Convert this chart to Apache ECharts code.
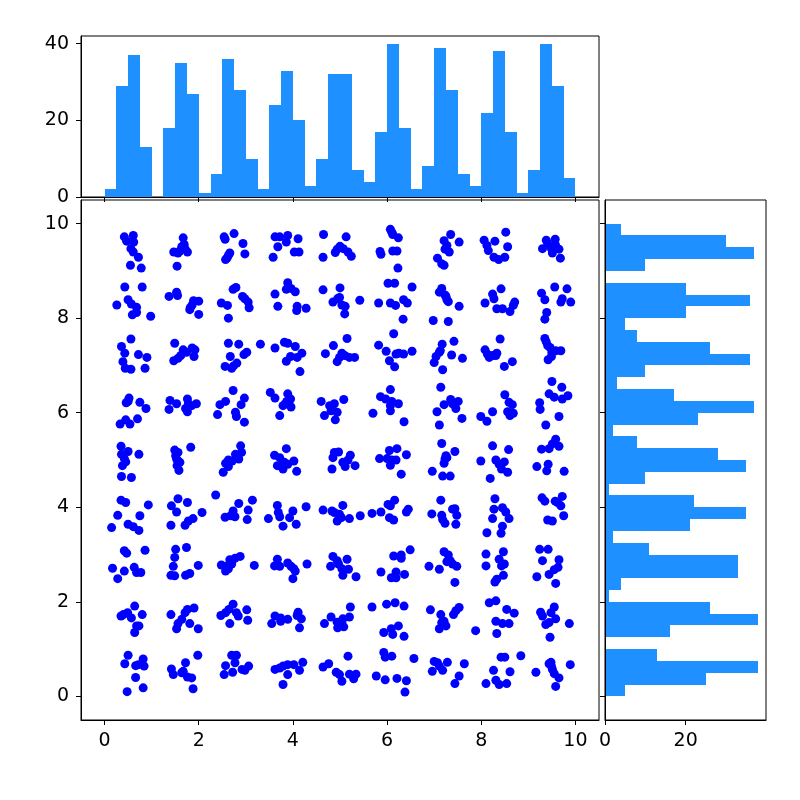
<!DOCTYPE html>
<html>
<head>
<meta charset="utf-8">
<script src="https://cdn.jsdelivr.net/npm/echarts@6/dist/echarts.min.js"></script>
<style>
  html, body { margin: 0; padding: 0; background: #fff; }
  #chart { width: 800px; height: 800px; }
</style>
</head>
<body>
<div id="chart"></div>
<script>
// scatter points, one array per band of clusters (top band first)
var row0 = [
  [0.42,9.72],[0.61,9.75],[0.47,9.63],[0.62,9.61],[0.56,9.47],[0.61,9.40],[0.72,9.29],[0.55,9.12],[0.78,9.06],
  [1.67,9.70],[1.69,9.56],[1.47,9.40],[1.60,9.42],[1.76,9.40],[1.54,9.10],[1.64,9.51],[1.56,9.38],[1.71,9.47],
  [2.54,9.72],[2.75,9.79],[2.94,9.58],[2.98,9.36],[2.66,9.38],[2.57,9.24],[2.56,9.67],[2.63,9.33],[2.60,9.27],
  [3.62,9.72],[3.72,9.72],[3.89,9.75],[3.86,9.61],[4.11,9.68],[3.68,9.51],[3.58,9.29],[4.03,9.40],[4.13,9.40],
  [4.65,9.77],[5.13,9.72],[5.00,9.52],[4.90,9.39],[5.07,9.47],[5.17,9.40],[5.24,9.31],[4.64,9.29],[4.94,9.46],
  [6.07,9.88],[6.12,9.77],[6.24,9.70],[5.85,9.41],[5.87,9.35],[6.12,9.42],[6.21,9.42],[6.23,9.06],[6.10,9.82],
  [7.35,9.77],[7.21,9.64],[7.53,9.61],[7.23,9.46],[7.32,9.40],[7.07,9.27],[7.16,9.15],[7.21,9.12],[7.27,9.54],
  [8.52,9.82],[8.06,9.65],[8.29,9.63],[8.15,9.43],[8.56,9.51],[8.27,9.29],[8.37,9.24],[8.50,9.29],[8.12,9.54],
  [9.38,9.65],[9.57,9.67],[9.30,9.47],[9.49,9.47],[9.65,9.46],[9.51,9.38],[9.68,9.27],[9.41,9.58],[9.58,9.54]
];
var row1 = [
  [0.43,8.66],[0.80,8.66],[0.26,8.28],[0.50,8.39],[0.57,8.30],[0.68,8.23],[0.59,8.07],[0.68,8.12],[0.98,8.04],
  [1.37,8.46],[1.53,8.55],[1.55,8.48],[1.82,8.22],[1.89,8.37],[2.00,8.36],[2.00,8.08],[1.86,8.28],[1.81,8.18],
  [2.48,8.32],[2.61,8.27],[2.73,8.61],[2.79,8.65],[2.93,8.46],[3.05,8.34],[3.07,8.22],[2.63,8.00],[2.98,8.41],
  [3.89,8.75],[3.86,8.61],[4.05,8.56],[3.62,8.51],[3.68,8.25],[4.09,8.25],[4.08,8.16],[4.28,8.21],[3.96,8.63],
  [4.64,8.60],[5.00,8.64],[4.99,8.44],[4.85,8.34],[5.04,8.28],[5.11,8.25],[5.10,8.09],[5.42,8.38],[4.95,8.41],
  [6.02,8.74],[6.16,8.74],[6.53,8.66],[5.82,8.32],[6.07,8.32],[6.18,8.27],[6.35,8.39],[6.43,8.32],[6.34,7.98],
  [7.16,8.63],[7.11,8.55],[7.25,8.46],[7.30,8.35],[7.53,8.25],[6.98,7.95],[7.30,7.93],[7.23,8.49],[7.27,8.39],
  [8.42,8.62],[8.24,8.51],[8.27,8.41],[8.08,8.32],[8.33,8.20],[8.45,8.20],[8.61,8.14],[8.71,8.34],[8.68,8.27],
  [9.28,8.53],[9.35,8.39],[9.56,8.66],[9.82,8.62],[9.69,8.34],[9.90,8.34],[9.39,8.12],[9.35,7.98],[9.72,8.41]
];
var row2 = [
  [0.56,7.56],[0.36,7.40],[0.43,7.26],[0.72,7.23],[0.90,7.17],[0.39,7.08],[0.44,6.94],[0.56,6.92],[0.86,6.94],
  [1.49,7.47],[1.67,7.33],[1.86,7.37],[1.92,7.33],[1.74,7.28],[1.90,7.19],[1.56,7.15],[1.47,7.10],[1.62,7.21],
  [2.63,7.47],[2.85,7.45],[3.02,7.28],[2.96,7.23],[2.67,7.19],[2.81,7.05],[2.56,6.98],[2.74,6.99],[2.70,6.94],
  [3.31,7.45],[3.62,7.37],[3.82,7.49],[3.89,7.47],[4.05,7.40],[4.19,7.26],[3.95,7.19],[3.86,7.09],[4.09,7.17],[4.15,6.87],
  [5.15,7.57],[4.86,7.42],[4.69,7.25],[5.04,7.26],[4.94,7.08],[5.20,7.17],[5.31,7.17],[5.10,7.21],[4.99,7.17],
  [6.14,7.67],[5.82,7.43],[5.98,7.30],[6.19,7.24],[6.35,7.24],[6.53,7.30],[6.05,7.10],[6.16,6.97],[6.25,7.26],
  [7.42,7.51],[7.17,7.45],[7.11,7.28],[7.37,7.22],[7.60,7.15],[7.04,7.19],[7.00,7.06],[7.18,6.91],[7.13,7.31],
  [8.40,7.56],[8.08,7.33],[8.13,7.24],[8.17,7.17],[8.33,7.26],[8.31,7.21],[8.66,7.08],[8.49,6.98],[8.24,7.21],
  [9.35,7.57],[9.38,7.50],[9.46,7.38],[9.50,7.28],[9.69,7.31],[9.42,7.12],[9.49,7.19],[9.41,7.42],[9.58,7.31]
];
var row3 = [
  [0.52,6.31],[0.46,6.21],[0.75,6.22],[0.88,6.09],[0.45,5.85],[0.33,5.76],[0.54,5.76],[0.70,5.87],[0.50,6.24],
  [1.39,6.26],[1.53,6.19],[1.37,6.07],[1.76,6.29],[1.78,6.19],[1.95,6.19],[1.72,6.09],[1.76,6.02],[1.85,6.15],
  [2.73,6.47],[2.97,6.31],[2.57,6.24],[2.45,6.17],[2.90,6.17],[2.40,5.96],[2.78,6.01],[2.80,5.92],[2.97,5.80],
  [3.52,6.43],[3.62,6.31],[3.89,6.40],[3.95,6.29],[3.79,6.15],[3.96,6.12],[3.84,6.19],[3.72,5.94],[3.87,6.24],
  [4.60,6.24],[5.08,6.28],[4.88,6.19],[4.81,6.12],[4.94,6.01],[4.67,5.94],[4.90,5.85],[4.81,6.04],[4.78,6.15],
  [6.07,6.49],[5.86,6.34],[5.97,6.29],[6.24,6.19],[6.07,6.15],[6.07,6.04],[5.70,5.99],[6.36,5.81],[6.10,6.24],
  [7.14,6.54],[7.21,6.17],[7.35,6.28],[7.51,6.24],[7.46,6.09],[7.06,6.02],[7.11,5.74],[7.59,5.88],[7.39,6.19],
  [8.50,6.38],[8.59,6.22],[8.66,6.17],[8.56,6.02],[8.68,5.99],[8.61,5.94],[8.24,6.02],[7.99,5.92],[8.12,5.82],
  [9.50,6.66],[9.71,6.54],[9.44,6.40],[9.55,6.33],[9.72,6.29],[9.84,6.36],[9.24,6.21],[9.25,6.07],[9.65,5.92],[9.37,5.74]
];
var row4 = [
  [0.35,5.29],[0.36,5.12],[0.50,5.18],[0.73,5.12],[0.45,4.96],[0.38,4.88],[0.36,4.65],[0.57,4.63],[0.42,5.03],
  [1.83,5.27],[1.49,5.21],[1.56,5.16],[1.53,5.02],[1.56,4.98],[1.60,4.95],[1.58,4.78],[1.54,4.88],[1.51,5.09],
  [2.89,5.30],[2.91,5.16],[2.85,5.02],[2.78,5.12],[2.63,5.00],[2.57,4.93],[2.63,4.86],[2.52,4.74],[2.71,4.98],
  [3.86,5.24],[3.61,5.10],[3.72,5.05],[4.02,4.98],[3.67,4.88],[3.79,4.81],[3.89,4.91],[4.08,4.76],[3.82,4.95],
  [4.88,5.16],[4.97,5.17],[4.85,5.05],[5.22,5.10],[5.06,4.95],[5.11,4.86],[4.83,4.81],[5.32,4.88],[5.17,5.00],
  [6.05,5.20],[6.21,5.24],[6.41,5.11],[5.84,5.03],[6.00,5.03],[6.10,5.00],[6.19,5.00],[6.07,4.89],[6.30,4.70],
  [7.16,5.35],[7.44,5.18],[7.25,5.09],[7.23,5.02],[7.21,4.93],[6.96,4.76],[7.18,4.66],[7.34,4.66],[7.27,5.05],
  [8.24,5.30],[8.58,5.22],[7.99,4.98],[8.31,5.00],[8.49,4.96],[8.43,4.81],[8.56,4.74],[8.19,4.61],[8.38,4.91],
  [9.58,5.44],[9.65,5.29],[9.28,5.23],[9.44,5.24],[9.42,4.91],[9.18,4.86],[9.39,4.77],[9.76,4.76],[9.51,5.34]
];
var row5 = [
  [0.35,4.15],[0.45,4.10],[0.93,4.05],[0.28,3.83],[0.75,3.82],[0.15,3.57],[0.50,3.64],[0.61,3.59],[0.73,3.51],
  [1.56,4.18],[1.76,4.10],[1.42,4.03],[1.53,3.90],[2.07,3.89],[1.88,3.76],[1.78,3.71],[1.71,3.62],[1.41,3.62],
  [2.36,4.26],[2.85,4.08],[3.14,4.15],[3.05,3.94],[2.73,3.92],[2.68,3.82],[2.56,3.79],[2.77,3.80],[3.03,3.74],
  [3.67,4.04],[3.69,3.89],[4.00,3.92],[4.28,4.01],[3.48,3.76],[3.72,3.80],[3.93,3.78],[3.79,3.60],[4.07,3.64],
  [4.64,3.94],[5.06,4.04],[4.88,3.89],[4.99,3.85],[5.03,3.78],[5.20,3.76],[4.94,3.71],[5.43,3.82],[4.83,3.92],
  [5.68,3.87],[5.87,3.90],[6.02,4.06],[6.16,4.15],[6.05,3.78],[6.14,3.73],[6.41,3.90],[6.45,3.96],[6.07,4.03],
  [7.14,4.15],[7.44,3.97],[6.95,3.86],[7.16,3.83],[7.48,3.83],[7.23,3.66],[7.46,3.64],[7.39,3.96],[7.18,3.74],
  [8.29,4.18],[8.27,3.96],[8.45,3.99],[8.52,3.90],[8.24,3.76],[8.59,3.76],[8.45,3.60],[8.12,3.46],[8.42,3.45],
  [9.29,4.20],[9.35,4.13],[9.57,4.13],[9.72,4.23],[9.69,4.03],[9.75,3.82],[9.41,3.73],[9.51,3.71],[9.62,4.10]
];
var row6 = [
  [0.42,3.08],[0.47,3.03],[0.86,3.09],[0.17,2.71],[0.42,2.65],[0.28,2.49],[0.63,2.73],[0.68,2.62],[0.77,2.62],
  [1.51,3.11],[1.74,3.15],[1.49,2.94],[1.46,2.75],[1.41,2.56],[1.49,2.55],[1.72,2.56],[1.81,2.60],[1.99,2.77],
  [2.48,2.78],[2.57,2.65],[2.63,2.70],[2.66,2.89],[2.77,2.92],[2.88,2.96],[2.70,2.80],[3.18,2.77],[2.59,2.75],
  [3.67,2.90],[3.61,2.76],[3.72,2.75],[3.89,2.82],[4.02,2.70],[4.05,2.65],[4.00,2.49],[4.30,2.80],[3.96,2.75],
  [4.85,2.96],[5.15,2.90],[4.80,2.75],[4.97,2.80],[5.04,2.70],[5.18,2.69],[5.06,2.56],[5.34,2.53],[4.94,2.87],
  [6.14,2.97],[6.30,2.99],[6.49,3.10],[6.30,2.92],[5.87,2.63],[6.19,2.63],[6.37,2.58],[6.09,2.51],[6.19,2.51],
  [6.89,2.75],[7.11,2.69],[7.21,3.06],[7.30,2.99],[7.27,2.85],[7.39,2.80],[7.48,2.75],[7.34,2.87],[7.44,2.41],
  [8.10,3.01],[8.10,2.76],[8.38,2.90],[8.47,3.06],[8.49,2.80],[8.43,2.76],[8.47,2.56],[8.29,2.42],[8.33,2.48],
  [9.24,3.11],[9.42,3.11],[9.30,2.87],[9.65,2.89],[9.63,2.73],[9.55,2.68],[9.44,2.58],[9.18,2.53],[9.58,2.39]
];
var row7 = [
  [0.64,1.91],[0.40,1.73],[0.49,1.77],[0.80,1.73],[0.57,1.66],[0.68,1.49],[0.73,1.49],[0.64,1.35],[0.35,1.70],
  [1.41,1.73],[1.76,1.84],[1.90,1.87],[1.71,1.77],[1.64,1.63],[1.56,1.54],[1.53,1.43],[1.81,1.54],[1.99,1.43],
  [2.73,1.95],[2.64,1.84],[2.47,1.71],[2.57,1.77],[2.80,1.77],[3.02,1.83],[3.04,1.61],[2.66,1.54],[2.84,1.70],
  [3.62,1.70],[3.74,1.66],[3.89,1.63],[3.55,1.54],[3.74,1.59],[4.11,1.78],[4.18,1.64],[4.14,1.45],[4.09,1.71],
  [5.22,1.89],[5.20,1.68],[5.06,1.64],[4.81,1.68],[4.67,1.54],[4.95,1.45],[5.08,1.47],[5.04,1.56],[4.94,1.57],
  [5.68,1.89],[5.99,1.95],[6.17,1.98],[6.36,1.91],[6.24,1.49],[6.09,1.43],[6.12,1.31],[5.93,1.35],[6.36,1.27],
  [6.92,1.83],[7.14,1.73],[7.53,1.88],[7.41,1.73],[7.21,1.59],[7.25,1.49],[7.11,1.43],[7.16,1.56],[7.46,1.81],
  [8.17,1.98],[8.31,2.02],[8.54,1.84],[8.70,1.76],[8.31,1.59],[8.45,1.54],[8.59,1.54],[8.33,1.33],[7.88,1.39],
  [9.26,1.78],[9.30,1.70],[9.55,1.89],[9.48,1.77],[9.58,1.64],[9.37,1.52],[9.44,1.56],[9.87,1.54],[9.46,1.25]
];
var row8 = [
  [0.50,0.87],[0.43,0.69],[0.66,0.65],[0.82,0.79],[0.84,0.64],[0.66,0.40],[0.82,0.18],[0.48,0.10],[0.72,0.67],
  [1.98,0.87],[1.72,0.71],[1.42,0.58],[1.46,0.46],[1.67,0.53],[1.76,0.41],[1.85,0.39],[1.88,0.16],[1.64,0.50],
  [2.70,0.87],[2.80,0.87],[2.77,0.71],[2.57,0.65],[2.54,0.46],[2.72,0.51],[2.92,0.57],[3.06,0.64],[2.98,0.55],
  [4.21,0.72],[4.02,0.67],[3.89,0.67],[3.79,0.64],[3.62,0.57],[4.14,0.55],[3.89,0.46],[3.79,0.25],[3.72,0.60],
  [5.17,0.85],[4.76,0.69],[4.64,0.62],[4.92,0.51],[5.04,0.32],[5.20,0.47],[5.34,0.47],[5.29,0.37],[4.99,0.46],
  [5.93,0.93],[5.96,0.83],[6.10,0.85],[5.77,0.43],[5.96,0.35],[6.21,0.38],[6.41,0.33],[6.38,0.09],[6.57,0.80],
  [7.00,0.74],[7.07,0.71],[7.28,0.72],[6.96,0.53],[7.18,0.55],[7.64,0.69],[7.53,0.43],[7.44,0.27],[7.11,0.64],
  [8.42,0.83],[8.50,0.83],[8.84,0.86],[8.26,0.55],[8.61,0.52],[8.31,0.34],[8.10,0.27],[8.38,0.25],[8.54,0.27],
  [9.48,0.72],[9.49,0.64],[9.51,0.57],[9.89,0.67],[9.16,0.51],[9.55,0.48],[9.65,0.39],[9.58,0.21],[9.44,0.69]
];

// histogram bins (shared edges) and counts read from the margins
var binEdges = [0, 0.25, 0.5, 0.75, 1, 1.25, 1.5, 1.75, 2, 2.25, 2.5, 2.75, 3, 3.25, 3.5, 3.75, 4, 4.25, 4.5, 4.75,
  5, 5.25, 5.5, 5.75, 6, 6.25, 6.5, 6.75, 7, 7.25, 7.5, 7.75, 8, 8.25, 8.5, 8.75, 9, 9.25, 9.5, 9.75, 10];
var xCounts = [2,29,37,13,0,18,35,27,1,6,36,28,10,2,24,33,20,3,10,32,32,7,4,17,40,18,2,8,39,28,6,3,22,38,17,1,7,40,29,5];
var yCounts = [5,25,38,13,0,16,38,26,1,4,33,33,11,2,21,35,22,1,10,35,28,8,2,23,37,17,3,10,36,26,8,5,20,36,20,0,10,37,30,4];

var mainTicks = [0, 2, 4, 6, 8, 10];
var topHistTicks = [0, 20, 40];
var rightHistTicks = [0, 20];

var points = [].concat(row0, row1, row2, row3, row4, row5, row6, row7, row8);
var topBins = xCounts.map(function (c, i) { return [binEdges[i], binEdges[i + 1], c]; });
var rightBins = yCounts.map(function (c, i) { return [binEdges[i], binEdges[i + 1], c]; });

var chart = echarts.init(document.getElementById('chart'));

function axisBase(extra) {
  var base = {
    type: 'value',
    axisLine: { show: true, onZero: false, lineStyle: { color: '#000', width: 1 } },
    axisTick: { show: true, length: 5, lineStyle: { color: '#000', width: 1 } },
    axisLabel: { show: true, margin: 12, color: '#000', fontSize: 19, fontFamily: 'DejaVu Sans' },
    splitLine: { show: false },
    z: 5
  };
  return Object.assign(base, extra);
}

function withTicks(ax, ticks, showLabels) {
  ax.axisTick.customValues = ticks;
  ax.axisLabel.customValues = ticks;
  ax.axisLabel.show = showLabels;
  return ax;
}

// snap bar edges to whole pixels so adjacent bins meet without seams
function pixelRect(a, b) {
  var x0 = Math.round(Math.min(a[0], b[0])), x1 = Math.round(Math.max(a[0], b[0]));
  var y0 = Math.round(Math.min(a[1], b[1])), y1 = Math.round(Math.max(a[1], b[1]));
  return { x: x0, y: y0, width: x1 - x0, height: y1 - y0 };
}

var option = {
  animation: false,
  backgroundColor: '#fff',
  textStyle: { fontFamily: 'DejaVu Sans' },
  grid: [
    { left: 81, top: 200, width: 518, height: 520, show: true, borderColor: '#000', borderWidth: 1, backgroundColor: '#fff' },
    { left: 81, top: 36, width: 518, height: 161, show: true, borderColor: '#000', borderWidth: 1, backgroundColor: '#fff' },
    { left: 605, top: 200, width: 161, height: 520, show: true, borderColor: '#000', borderWidth: 1, backgroundColor: '#fff' }
  ],
  xAxis: [
    withTicks(axisBase({ gridIndex: 0, min: -0.5, max: 10.5 }), mainTicks, true),
    withTicks(axisBase({ gridIndex: 1, min: -0.5, max: 10.5 }), mainTicks, false),
    withTicks(axisBase({ gridIndex: 2, min: 0, max: 39.9 }), rightHistTicks, true)
  ],
  yAxis: [
    withTicks(axisBase({ gridIndex: 0, min: -0.5, max: 10.5 }), mainTicks, true),
    withTicks(axisBase({ gridIndex: 1, min: 0, max: 42 }), topHistTicks, true),
    withTicks(axisBase({ gridIndex: 2, min: -0.5, max: 10.5 }), mainTicks, false)
  ],
  series: [
    {
      type: 'scatter',
      xAxisIndex: 0,
      yAxisIndex: 0,
      symbolSize: 9,
      itemStyle: { color: '#0000ff', opacity: 1 },
      silent: true,
      data: points
    },
    {
      type: 'custom',
      xAxisIndex: 1,
      yAxisIndex: 1,
      silent: true,
      encode: { x: [0, 1], y: 2 },
      renderItem: function (params, api) {
        if (!api.value(2)) return null;
        return {
          type: 'rect',
          shape: pixelRect(api.coord([api.value(0), 0]), api.coord([api.value(1), api.value(2)])),
          style: { fill: '#1e90ff' }
        };
      },
      data: topBins
    },
    {
      type: 'custom',
      xAxisIndex: 2,
      yAxisIndex: 2,
      silent: true,
      encode: { x: 2, y: [0, 1] },
      renderItem: function (params, api) {
        if (!api.value(2)) return null;
        return {
          type: 'rect',
          shape: pixelRect(api.coord([0, api.value(0)]), api.coord([api.value(2), api.value(1)])),
          style: { fill: '#1e90ff' }
        };
      },
      data: rightBins
    }
  ]
};

chart.setOption(option);

window.addEventListener('resize', function () {
  chart.resize();
});
</script>
</body>
</html>
